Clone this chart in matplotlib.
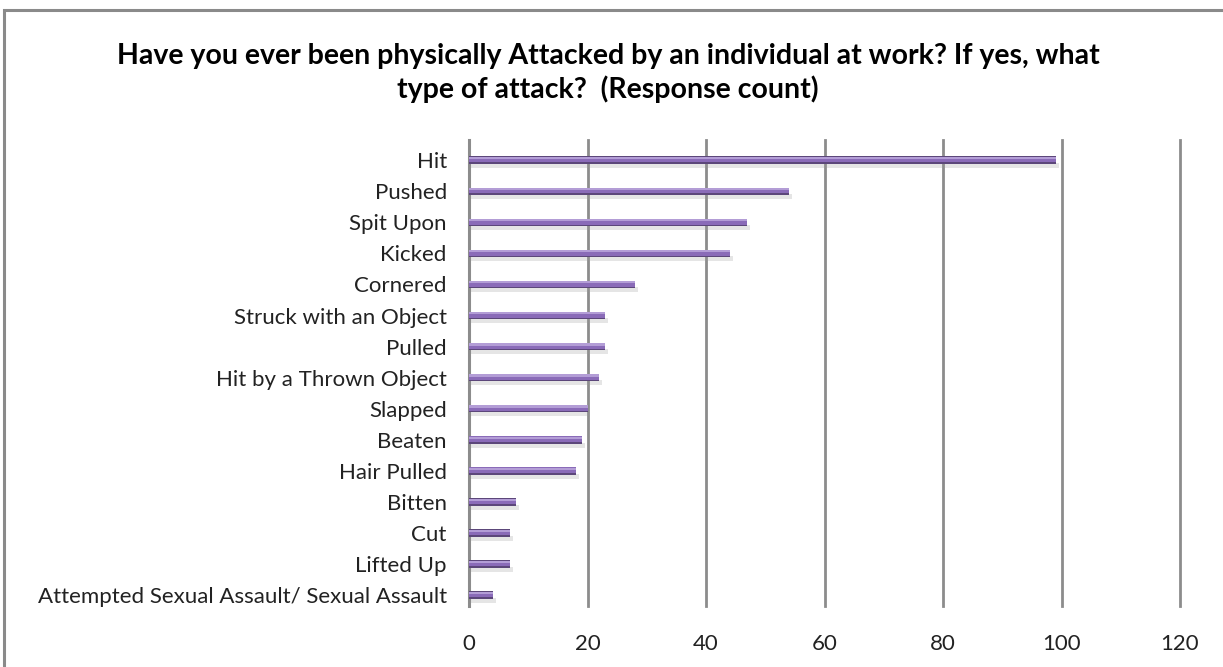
import matplotlib
matplotlib.use("Agg")
import matplotlib.pyplot as plt
from matplotlib.patches import Rectangle

plt.rcParams['font.family'] = ['Lato', 'DejaVu Sans']

# 攻击类型及回答人数
categories = ["Hit", "Pushed", "Spit Upon", "Kicked", "Cornered",
              "Struck with an Object", "Pulled", "Hit by a Thrown Object",
              "Slapped", "Beaten", "Hair Pulled", "Bitten", "Cut",
              "Lifted Up", "Attempted Sexual Assault/ Sexual Assault"]
counts = [99, 54, 47, 44, 28, 23, 23, 22, 20, 19, 18, 8, 7, 7, 4]
xticks = [0, 20, 40, 60, 80, 100, 120]

title = ("Have you ever been physically Attacked by an individual at work? If yes, what\n"
         "type of attack?  (Response count)")

fig = plt.figure(figsize=(12.23, 6.67), dpi=100)
fig.patch.set_facecolor("white")

# 图表外框
fig.patches.append(Rectangle((4 / 1223, -0.05), 1.1, 1 - 10 / 667 + 0.05,
                             transform=fig.transFigure, fill=False,
                             edgecolor="#8a8a8a", linewidth=2.2))

ax = fig.add_axes([469 / 1223, 1 - 606 / 667, (1180 - 469) / 1223, (606 - 140) / 667])

n = len(categories)
ypos = [n - 1 - i for i in range(n)]
h = 0.24

# 阴影 + 立体效果的细条
ax.barh([y - 0.17 for y in ypos], [c + 0.5 for c in counts], height=0.16,
        color="#9a9a9a", alpha=0.25, linewidth=0, zorder=2)
ax.barh(ypos, counts, height=h, color="#5C477A", linewidth=0, zorder=3)
ax.barh([y + 0.02 for y in ypos], counts, height=h * 0.75, color="#8A6BB8",
        linewidth=0, zorder=4)
ax.barh([y + 0.07 for y in ypos], counts, height=h * 0.3, color="#B39DD6",
        linewidth=0, zorder=5)

ax.set_xlim(0, 120)
ax.set_ylim(-0.35, n - 0.35)
ax.set_xticks(xticks)
ax.set_xticklabels([str(t) for t in xticks])
ax.set_yticks(ypos)
ax.set_yticklabels(categories)
ax.tick_params(axis="both", length=0, labelsize=16, colors="#222222")
ax.tick_params(axis="x", pad=20)
ax.tick_params(axis="y", pad=16)

ax.grid(axis="x", color="#8c8c8c", linewidth=2, zorder=1)
ax.set_axisbelow(True)
for line in ax.get_xgridlines():
    line.set_clip_on(False)
for side in ["top", "right", "bottom"]:
    ax.spines[side].set_visible(False)
ax.spines["left"].set_color("#8c8c8c")
ax.spines["left"].set_linewidth(2.2)

fig.text(608 / 1223, 1 - 73 / 667, title, ha="center", va="center",
         fontsize=20.5, fontweight="bold", linespacing=1.3)

plt.savefig("out.png", dpi=100)
plt.close()
